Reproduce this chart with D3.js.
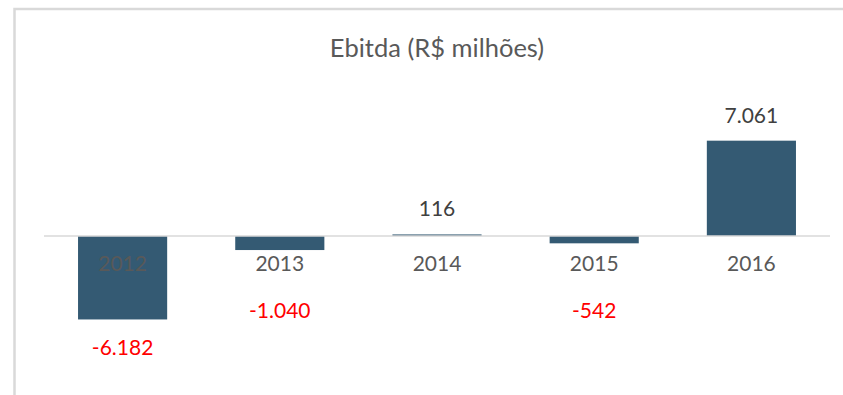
<!DOCTYPE html>
<html>
<head>
<meta charset="utf-8">
<script src="https://cdn.jsdelivr.net/npm/d3@7"></script>
<style>
  html, body { margin: 0; padding: 0; background: #fff; }
  svg { display: block; }
  text { font-family: Lato, "Open Sans", sans-serif; }
</style>
</head>
<body>
<svg id="chart" width="843" height="395"></svg>
<script>
// Ebitda per year, R$ millions
const years = ["2012", "2013", "2014", "2015", "2016"];
const ebitda = [-6182, -1040, 116, -542, 7061];
const valueLabels = ["-6.182", "-1.040", "116", "-542", "7.061"];
const chartTitle = "Ebitda (R$ milhões)";

const W = 843, H = 395;
const svg = d3.select("#chart");

// outer frame (runs off the right and bottom edges)
svg.append("rect")
  .attr("x", 14.5).attr("y", 9)
  .attr("width", W + 20).attr("height", H + 20)
  .attr("fill", "#fff")
  .attr("stroke", "#d9d9d9").attr("stroke-width", 2.5);

const x = d3.scaleBand()
  .domain(years)
  .range([44, 830])
  .paddingInner(0.433)
  .paddingOuter(0.2165);

const y = d3.scaleLinear()
  .domain([-8000, 8000])
  .range([344, 128]);

// title
svg.append("text")
  .attr("x", 437).attr("y", 57)
  .attr("text-anchor", "middle")
  .attr("font-size", 25.5)
  .attr("fill", "#595959")
  .text(chartTitle);

const data = years.map((yr, i) => ({ year: yr, value: ebitda[i], label: valueLabels[i] }));

// bars
svg.append("g").selectAll("rect")
  .data(data)
  .join("rect")
  .attr("x", d => x(d.year))
  .attr("width", x.bandwidth())
  .attr("y", d => y(Math.max(0, d.value)))
  .attr("height", d => Math.abs(y(d.value) - y(0)))
  .attr("fill", "#345a73");

// zero baseline
svg.append("line")
  .attr("x1", 44).attr("x2", 830)
  .attr("y1", y(0)).attr("y2", y(0))
  .attr("stroke", "#d9d9d9").attr("stroke-width", 1.5);

// category axis labels sit just under the baseline
const xAxis = d3.axisBottom(x).tickSize(0).tickPadding(20);
const gx = svg.append("g")
  .attr("transform", `translate(0,${y(0)})`)
  .call(xAxis);
gx.select(".domain").remove();
gx.selectAll("text")
  .attr("font-size", 21)
  .attr("font-family", "Lato, 'Open Sans', sans-serif")
  .attr("fill", "#595959");

// value labels: above positive bars, below negative bars (clear of the year labels)
svg.append("g").selectAll("text")
  .data(data)
  .join("text")
  .attr("x", d => x(d.year) + x.bandwidth() / 2)
  .attr("y", d => d.value >= 0 ? y(d.value) - 18 : Math.max(y(d.value) + 36, 318))
  .attr("text-anchor", "middle")
  .attr("font-size", 21)
  .attr("fill", d => d.value >= 0 ? "#404040" : "#ff0000")
  .text(d => d.label);
</script>
</body>
</html>
